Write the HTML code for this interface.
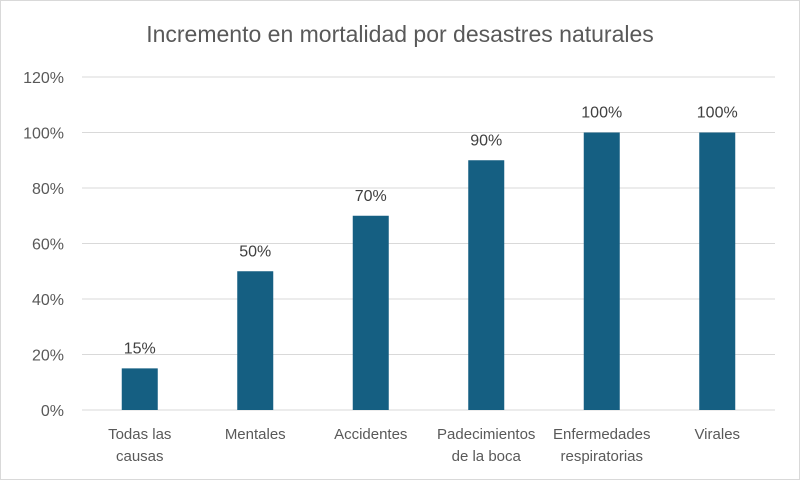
<!DOCTYPE html>
<html><head><meta charset="utf-8"><style>
html,body{margin:0;padding:0;background:#fff}
svg{display:block;font-family:"Liberation Sans",sans-serif}
</style></head><body>
<svg id="chart" width="800" height="480" viewBox="0 0 800 480">
<rect x="0.5" y="0.5" width="799" height="479" fill="#fff" stroke="#d9d9d9"/>
<text x="400" y="42" text-anchor="middle" font-size="23" fill="#595959">Incremento en mortalidad por desastres naturales</text>
<g id="grid"></g><g id="bars"></g><g id="labels"></g>
</svg>
<script>
const categories=[["Todas las","causas"],["Mentales"],["Accidentes"],["Padecimientos","de la boca"],["Enfermedades","respiratorias"],["Virales"]];
const values=[15,50,70,90,100,100];
const ticks=[0,20,40,60,80,100,120];
const ns="http://www.w3.org/2000/svg";
const L=82,R=775,Y0=410,Y120=77;
const y=v=>Y0-(v/120)*(Y0-Y120);
const bw=(R-L)/categories.length;
const x=i=>L+bw*(i+0.5);
function mk(t,a,p){const e=document.createElementNS(ns,t);for(const k in a)e.setAttribute(k,a[k]);p.appendChild(e);return e;}
const grid=document.getElementById('grid'),bars=document.getElementById('bars'),labels=document.getElementById('labels');
ticks.forEach(t=>{
 const l=mk('line',{x1:L,x2:R,y1:y(t),y2:y(t),stroke:'#d9d9d9','stroke-width':1},grid);
 
 
 const tx=mk('text',{x:64,y:y(t)+6,'text-anchor':'end','font-size':16,fill:'#595959'},grid);
 tx.textContent=t+'%';
 
 
});
values.forEach((v,i)=>{
 const r=mk('rect',{x:x(i)-18,y:y(v),width:36,height:Y0-y(v),fill:'#155f82'},bars);
 
 
 const t=mk('text',{x:x(i),y:y(v)-15,'text-anchor':'middle','font-size':16,fill:'#404040'},labels);
 t.textContent=v+'%';
 
 
 categories[i].forEach((s,j)=>{
  const c=mk('text',{x:x(i),y:439+j*22,'text-anchor':'middle','font-size':15,fill:'#595959'},labels);
  c.textContent=s;
  
  
 });
});
</script>
</body></html>
